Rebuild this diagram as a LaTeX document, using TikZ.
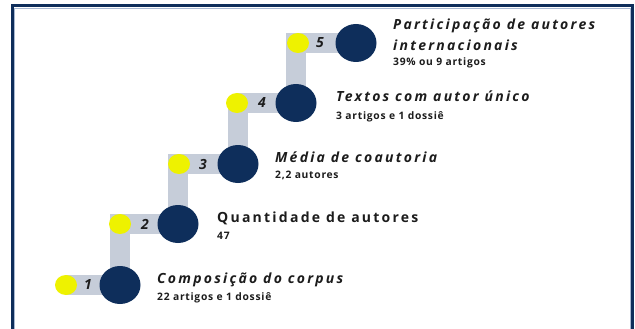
\documentclass[tikz,border=0pt]{standalone}
\usepackage{fontspec}
\setmainfont{Open Sans}
\newfontfamily\headfont[LetterSpace=16]{Open Sans}
\newfontfamily\subfont[LetterSpace=7]{Open Sans}
\usetikzlibrary{shapes.geometric}
\usetikzlibrary{backgrounds}
\definecolor{navy}{HTML}{0E2E5B}
\definecolor{lemon}{HTML}{EEF200}
\definecolor{steel}{HTML}{C6CDD9}
\definecolor{ink}{HTML}{1C1C1C}
\definecolor{paleblue}{HTML}{A9B9D2}
\tikzstyle{bigdot} = [ellipse,fill=navy,minimum width=41pt,minimum height=38pt,inner sep=0pt]
\tikzstyle{smalldot} = [ellipse,fill=lemon,minimum width=22pt,minimum height=20pt,inner sep=0pt]
\tikzstyle{numtext} = [font=\fontsize{14}{14}\selectfont\bfseries\itshape,text=ink,inner sep=0pt]
\tikzstyle{headtext} = [anchor=base west,font=\headfont\fontsize{14}{21}\selectfont\bfseries\itshape,text=ink,inner sep=0pt]
\tikzstyle{subtext} = [anchor=base west,font=\subfont\fontsize{10.3}{11}\selectfont\bfseries,text=ink,inner sep=0pt]
\tikzstyle{bar} = [draw=steel,line width=20pt]
\begin{document}
\begin{tikzpicture}[x=1pt,y=-1pt]
	\useasboundingbox (0,0) rectangle (635,329);
	\clip (0,0) rectangle (635,329);
	\draw [navy,line width=3pt] (12,6) rectangle (632,340);
	\draw [paleblue,line width=0.7pt] (14,8) rectangle (630,340);
	%%%%%%%%%%%%%%%
	\node [smalldot] (y1) at(66,285) {};
	\node [bigdot] (n1) at(120,285) {};
	\node [numtext] (t1) at(88,285) {1};
	\node [headtext] (h1) at(157,283) {Composição do corpus};
	\node [subtext] (s1) at(157,300) {22 artigos e 1 dossiê};
	%%%%%%%%%%%%%%%
	\node [smalldot] (y2) at(120,224) {};
	\node [bigdot] (n2) at(178,224) {};
	\node [numtext] (t2) at(145,224) {2};
	\node [headtext,font=\headfont\fontsize{14}{21}\selectfont\bfseries] (h2) at(217,222) {Quantidade de autores};
	\node [subtext] (s2) at(217,239) {47};
	%%%%%%%%%%%%%%%
	\node [smalldot] (y3) at(179,164) {};
	\node [bigdot] (n3) at(238,164) {};
	\node [numtext] (t3) at(203,164) {3};
	\node [headtext] (h3) at(275,162) {Média de coautoria};
	\node [subtext] (s3) at(275,178) {2,2 autores};
	%%%%%%%%%%%%%%%
	\node [smalldot] (y4) at(237,103) {};
	\node [bigdot] (n4) at(296,103) {};
	\node [numtext] (t4) at(262,103) {4};
	\node [headtext] (h4) at(336,102) {Textos com autor único};
	\node [subtext] (s4) at(336,119) {3 artigos e 1 dossiê};
	%%%%%%%%%%%%%%%
	\node [smalldot] (y5) at(298,43) {};
	\node [bigdot] (n5) at(356,43) {};
	\node [numtext] (t5) at(320,43) {5};
	\node [headtext] (h5) at(393,30) {Participação de autores};
	\node [headtext] (h6) at(393,51) {internacionais};
	\node [subtext] (s5) at(393,66) {39\% ou 9 artigos};
	%%%%%%%%%%%%%%%
	\begin{pgfonlayer}{background}
		\draw [bar] (y1.center) -- (n1.center) |- (y2.center) -- (n2.center) |- (y3.center)
		-- (n3.center) |- (y4.center) -- (n4.center) |- (y5.center) -- (n5.center);
	\end{pgfonlayer}
\end{tikzpicture}
\end{document}
